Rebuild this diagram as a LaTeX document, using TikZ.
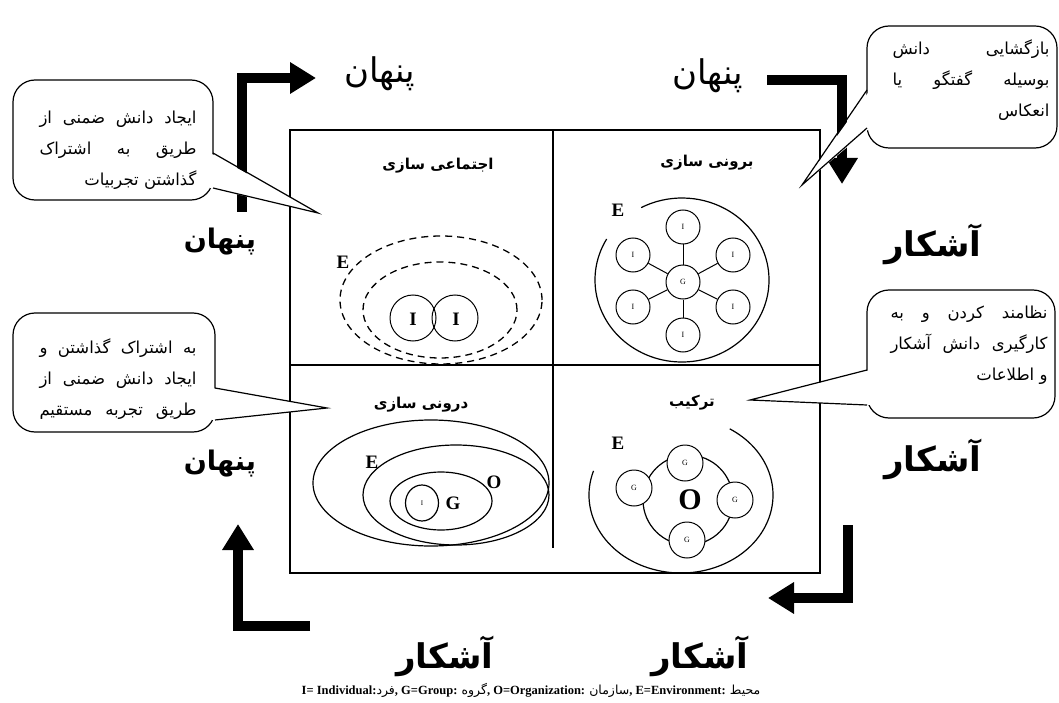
\documentclass[tikz,border=0pt]{standalone}
\usepackage{fontspec}
\setmainfont{Liberation Serif}
\newfontfamily\fa[Script=Arabic]{DejaVu Sans}
\TeXXeTstate=1
\usetikzlibrary{arrows.meta,shapes.geometric}
\newcommand\FA[1]{{\fa\beginR #1\endR}}
\newcommand\jline[1]{\makebox[157pt][s]{\fa\beginR #1\endR}}
\newcommand\lline[1]{\makebox[157pt][r]{\fa\beginR #1\endR}}
\tikzset{
  bigarrow/.style={line width=10pt, line join=miter, -{Triangle[length=26pt,width=30pt]}},
  callout/.style={draw, line width=1.2pt, rounded corners=22pt, fill=white},
  tail/.style={line width=1.2pt},
  ctext/.style={inner sep=0pt, align=right, font=\fontsize{16.5}{31}\selectfont},
  side/.style={inner sep=0pt, font=\fa\bfseries\fontsize{34}{38}\selectfont},
  hidden/.style={inner sep=0pt, font=\fa\bfseries\fontsize{27}{32}\selectfont},
  tophidden/.style={inner sep=0pt, font=\fa\fontsize{34}{38}\selectfont},
  qtitle/.style={inner sep=0pt, font=\fa\bfseries\fontsize{15}{18}\selectfont},
  letter/.style={inner sep=0pt, font=\bfseries\fontsize{19}{22}\selectfont},
  circ/.style={draw, circle, line width=1pt, fill=white, inner sep=0pt},
  small/.style={font=\fontsize{8}{9}\selectfont},
}
\begin{document}
\begin{tikzpicture}[x=1pt,y=-1pt]
\useasboundingbox (0,0) rectangle (1059,703);
\fill[white] (0,0) rectangle (1059,703);

% ---------- main frame ----------
\draw[line width=1.3pt] (290,130) rectangle (820,573);
\draw[line width=1.3pt] (290,365) -- (820,365);
\draw[line width=1.3pt] (553,130) -- (553,548);

% ---------- big arrows ----------
\coordinate (a1s) at (242,212); \coordinate (a1c) at (242,78); \coordinate (a1e) at (316,78);
\draw[bigarrow] (a1s) -- (a1c) -- (a1e);
\coordinate (a2s) at (767,80); \coordinate (a2c) at (842,80); \coordinate (a2e) at (842,184);
\draw[bigarrow] (a2s) -- (a2c) -- (a2e);
\coordinate (a3s) at (848,525); \coordinate (a3c) at (848,598); \coordinate (a3e) at (768,598);
\draw[bigarrow] (a3s) -- (a3c) -- (a3e);
\coordinate (a4s) at (310,626); \coordinate (a4c) at (238,626); \coordinate (a4e) at (238,524);
\draw[bigarrow] (a4s) -- (a4c) -- (a4e);

% ---------- side labels ----------
\node[tophidden] (p1) at (380,74) {\beginR پنهان\endR};
\node[tophidden] (p2) at (708,76) {\beginR پنهان\endR};
\node[hidden] (p3) at (220,242) {\beginR پنهان\endR};
\node[hidden] (p4) at (220,464) {\beginR پنهان\endR};
\node[side] (k1) at (933,244) {\beginR آشکار\endR};
\node[side] (k2) at (933,459) {\beginR آشکار\endR};
\node[side] (k3) at (445,656) {\beginR آشکار\endR};
\node[side] (k4) at (700,656) {\beginR آشکار\endR};

% ---------- callouts ----------
% top-left
\draw[callout] (13,80) rectangle (213,200);
\coordinate (c1t) at (318,213);
\fill[white] (210,153) -- (c1t) -- (210,188) -- cycle;
\draw[tail] (213,153) -- (c1t) -- (213,188);
\node[ctext] (c1) at (118,150) {\jline{ایجاد دانش ضمنی از}\\\jline{طریق به اشتراک}\\\lline{گذاشتن تجربیات}};
% top-right
\draw[callout] (867,26) rectangle (1057,148);
\coordinate (c2t) at (802,185);
\fill[white] (870,90) -- (c2t) -- (870,128) -- cycle;
\draw[tail] (867,90) -- (c2t) -- (867,128);
\node[ctext] (c2) at (971,80) {\jline{بازگشایی دانش}\\\jline{بوسیله گفتگو یا}\\\lline{انعکاس}};
% left-middle
\draw[callout] (13,313) rectangle (215,432);
\coordinate (c3t) at (327,408);
\fill[white] (212,388) -- (c3t) -- (212,420) -- cycle;
\draw[tail] (215,388) -- (c3t) -- (215,420);
\node[ctext] (c3) at (118,379) {\jline{به اشتراک گذاشتن و}\\\jline{ایجاد دانش ضمنی از}\\\jline{طریق تجربه مستقیم}};
% right-middle
\draw[callout] (867,290) rectangle (1055,418);
\coordinate (c4t) at (750,400);
\fill[white] (870,370) -- (c4t) -- (870,405) -- cycle;
\draw[tail] (867,370) -- (c4t) -- (867,405);
\node[ctext] (c4) at (969,345) {\jline{نظامند کردن و به}\\\jline{کارگیری دانش آشکار}\\\lline{و اطلاعات}};

% ---------- quadrant titles ----------
\node[qtitle] (t1) at (438,166) {\beginR اجتماعی سازی\endR};
\node[qtitle] (t2) at (707,163) {\beginR برونی سازی\endR};
\node[qtitle] (t3) at (421,405) {\beginR درونی سازی\endR};
\node[qtitle] (t4) at (692,403) {\beginR ترکیب\endR};

% ---------- socialization (top-left) ----------
\draw[line width=1.3pt, dash pattern=on 7pt off 5pt] (441,300) ellipse [x radius=101pt, y radius=64pt];
\draw[line width=1.3pt, dash pattern=on 7pt off 5pt] (440,310) ellipse [x radius=77pt, y radius=48pt];
\node[letter] (e1) at (343,262) {E};
\draw[line width=1pt] (413,318) circle [radius=23pt];
\draw[line width=1pt] (455,318) circle [radius=23pt];
\node[letter] (s1) at (413,319) {I};
\node[letter] (s2) at (456,319) {I};

% ---------- externalization (top-right) ----------
\draw[line width=1.2pt] (682,280) ++(150:87pt and 82pt) arc [start angle=150, end angle=478, x radius=87pt, y radius=82pt];
\node[letter] (e2) at (618,210) {E};
\node[circ, minimum size=34pt, small] (g0) at (683,282) {G};
\node[circ, minimum size=34pt, small] (i1) at (683,227) {I};
\node[circ, minimum size=34pt, small] (i2) at (633,255) {I};
\node[circ, minimum size=34pt, small] (i3) at (733,255) {I};
\node[circ, minimum size=34pt, small] (i4) at (633,307) {I};
\node[circ, minimum size=34pt, small] (i5) at (733,307) {I};
\node[circ, minimum size=34pt, small] (i6) at (683,335) {I};
\foreach \n in {i1,i2,i3,i4,i5,i6} \draw[line width=1pt] (g0) -- (\n);

% ---------- internalization (bottom-left) ----------
\draw[line width=1.2pt] (431,483) ellipse [x radius=118pt, y radius=63pt];
\draw[line width=1.2pt] (456,495) ellipse [x radius=93pt, y radius=50pt];
\draw[line width=1.2pt] (441,501) ellipse [x radius=51pt, y radius=29pt];
\node[draw, ellipse, line width=1.2pt, minimum width=33pt, minimum height=36pt, inner sep=0pt, font=\fontsize{7}{8}\selectfont] (ii) at (422,503) {I};
\node[letter] (e3) at (372,462) {E};
\node[letter] (o3) at (494,482) {O};
\node[letter] (g3) at (453,503) {G};

% ---------- combination (bottom-right) ----------
\draw[line width=1.2pt] (681,495) ++(162:92pt and 78pt) arc [start angle=162, end angle=418, x radius=92pt, y radius=78pt];
\node[letter] (e4) at (618,443) {E};
\draw[line width=1.2pt] (688,500) circle [radius=45pt];
\node[inner sep=0pt, font=\bfseries\fontsize{30}{32}\selectfont] (oo) at (690,500) {O};
\node[circ, minimum size=36pt, small] (h1) at (685,463) {G};
\node[circ, minimum size=36pt, small] (h2) at (634,488) {G};
\node[circ, minimum size=36pt, small] (h3) at (735,500) {G};
\node[circ, minimum size=36pt, small] (h4) at (687,540) {G};

% ---------- caption ----------
\node[inner sep=0pt, font=\bfseries\fontsize{12.5}{14}\selectfont] (cap) at (531,690)
 {I= Individual:{\fa\mdseries\beginR فرد\endR}, G=Group: {\fa\mdseries\beginR گروه\endR}, O=Organization: {\fa\mdseries\beginR سازمان\endR}, E=Environment: {\fa\mdseries\beginR محیط\endR}};
\end{tikzpicture}
\end{document}
